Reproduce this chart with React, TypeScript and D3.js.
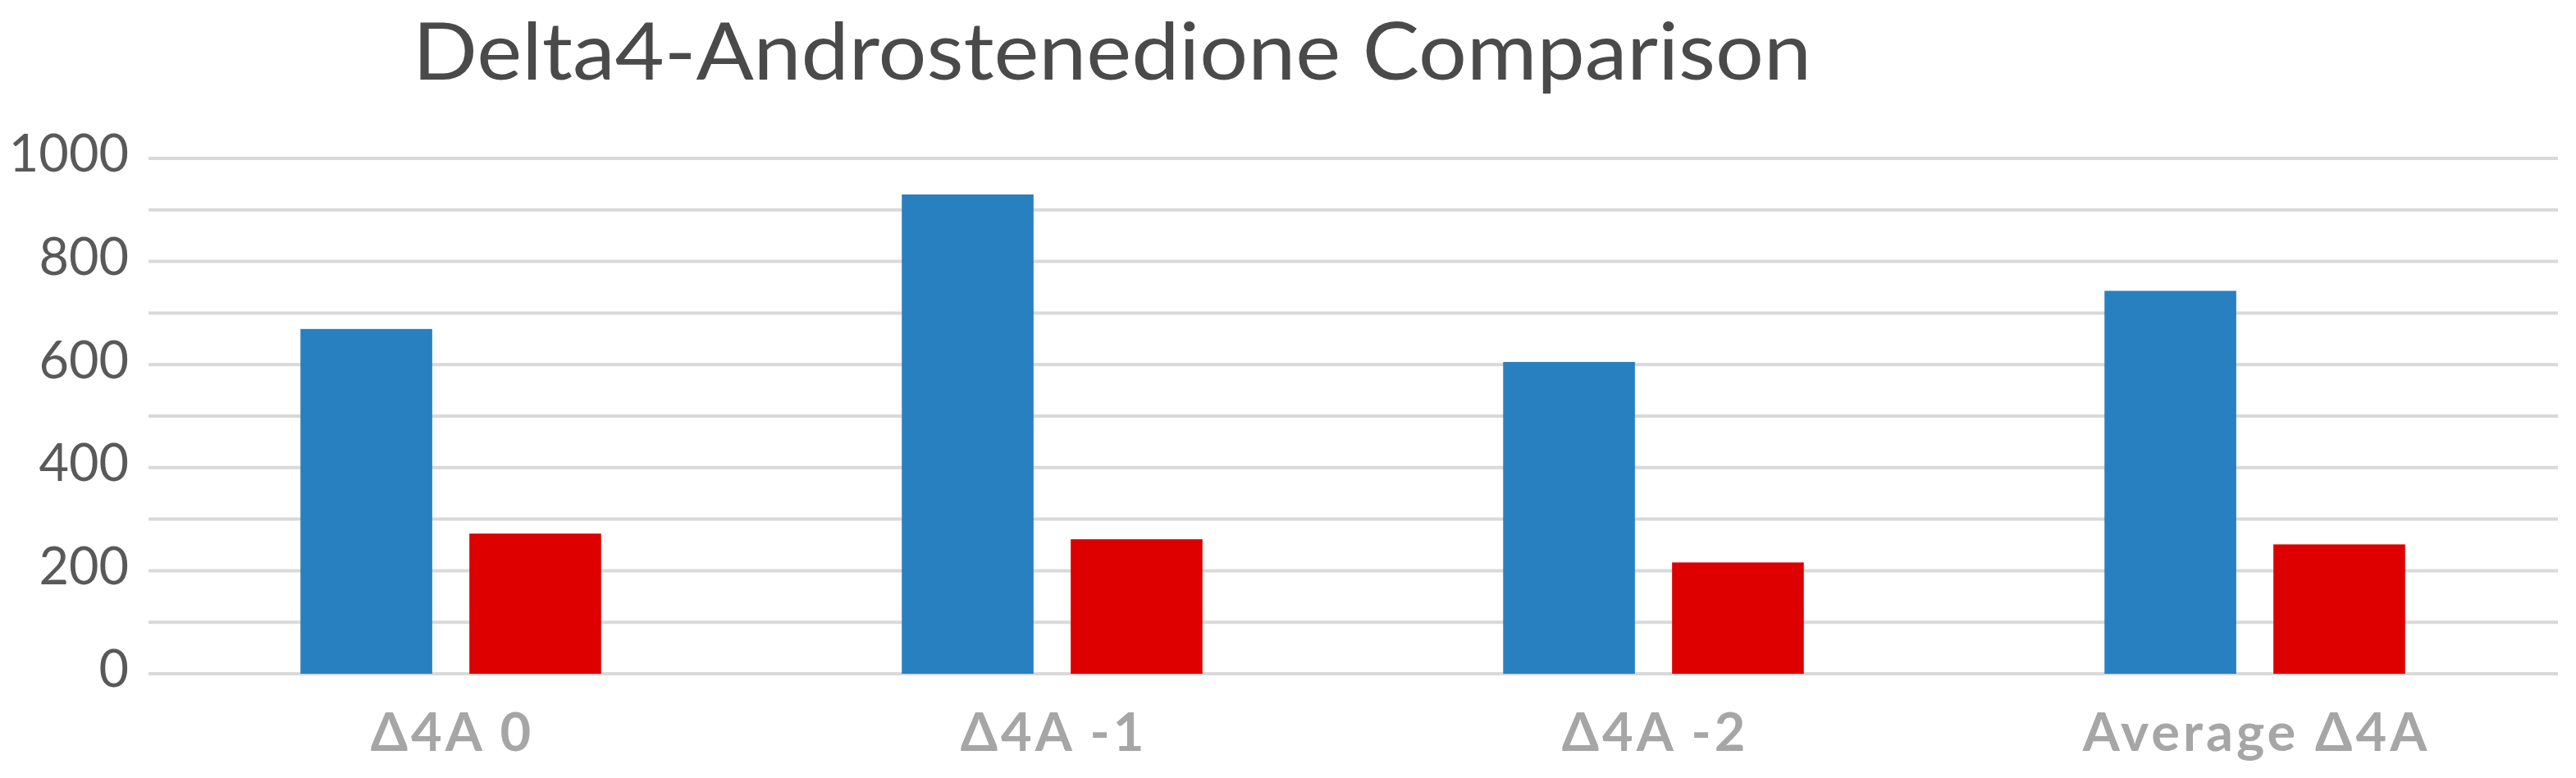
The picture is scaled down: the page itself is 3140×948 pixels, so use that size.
import React from "react";
import * as d3 from "d3";

const categories = ["Δ4A 0", "Δ4A -1", "Δ4A -2", "Average Δ4A"];
const seriesNames = ["Series A", "Series B"];
const seriesA = [669, 930, 605, 743];
const seriesB = [272, 261, 216, 251];
const yTickValues = [0, 200, 400, 600, 800, 1000];
const gridValues = [0, 100, 200, 300, 400, 500, 600, 700, 800, 900, 1000];
const titleText = "Delta4-Androstenedione Comparison";

const W = 3140;
const H = 948;
const colors = ["#2880c0", "#de0000"];

export default function App() {
  const x0 = d3
    .scaleBand<string>()
    .domain(categories)
    .range([183, 3115])
    .paddingInner(0.5)
    .paddingOuter(0.25);
  const x1 = d3
    .scaleBand<string>()
    .domain(seriesNames)
    .range([0, x0.bandwidth()])
    .paddingInner(0.22);
  const y = d3.scaleLinear().domain([0, 1000]).range([821, 193]);
  const values = [seriesA, seriesB];
  const gridX0 = 181;
  const gridX1 = 3118;

  return (
    <svg
      width={W}
      height={H}
      style={{ position: "absolute", left: 0, top: 0, background: "#fff" }}
    >
      <rect x={0} y={0} width={W} height={H} fill="#ffffff" />
      <text
        x={503}
        y={97}
        textAnchor="start"
        fontFamily="Lato, 'Open Sans', sans-serif"
        fontSize={96}
        textLength={1705}
        lengthAdjust="spacingAndGlyphs"
        fill="#4a4a4a"
      >
        {titleText}
      </text>
      {gridValues.map((v) => (
        <line
          key={"g" + v}
          x1={gridX0}
          x2={gridX1}
          y1={y(v)}
          y2={y(v)}
          stroke="#d9d9d9"
          strokeWidth={4}
        />
      ))}
      {yTickValues.map((v) => (
        <text
          key={"t" + v}
          x={157}
          y={y(v)}
          dy="0.26em"
          textAnchor="end"
          fontFamily="Lato, 'Open Sans', sans-serif"
          fontSize={63}
          fill="#595959"
        >
          {v}
        </text>
      ))}
      {categories.map((c, ci) => (
        <g key={c} transform={`translate(${x0(c)},0)`}>
          {seriesNames.map((s, si) => (
            <rect
              key={s}
              x={x1(s)}
              y={y(values[si][ci])}
              width={x1.bandwidth()}
              height={y(0) - y(values[si][ci])}
              fill={colors[si]}
            />
          ))}
        </g>
      ))}
      {categories.map((c) => (
        <text
          key={"l" + c}
          x={(x0(c) as number) + x0.bandwidth() / 2 + 2}
          y={915}
          textAnchor="middle"
          fontFamily="Lato, 'Open Sans', sans-serif"
          fontWeight="bold"
          fontSize={65}
          letterSpacing={4}
          fill="#a6a6a6"
        >
          {c}
        </text>
      ))}
    </svg>
  );
}
